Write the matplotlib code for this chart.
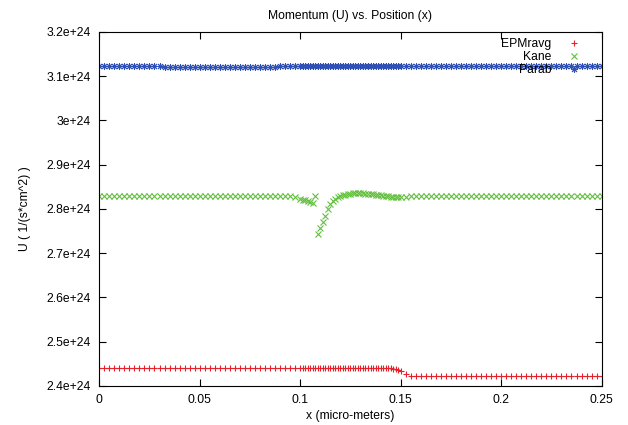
import matplotlib
matplotlib.use('Agg')
import matplotlib.pyplot as plt
from matplotlib.ticker import FuncFormatter
import numpy as np

plt.rcParams['font.family'] = ['Liberation Sans', 'DejaVu Sans']
plt.rcParams['font.size'] = 8.7

# x positions (micro-meters)
x_um = [
    0.0, 0.0025, 0.005, 0.0075, 0.01, 0.0125, 0.015, 0.0175, 0.02, 0.0225,
    0.025, 0.0275, 0.03, 0.0325, 0.035, 0.0375, 0.04, 0.0425, 0.045, 0.0475,
    0.05, 0.0525, 0.055, 0.0575, 0.06, 0.0625, 0.065, 0.0675, 0.07, 0.0725,
    0.075, 0.0775, 0.08, 0.0825, 0.085, 0.0875, 0.09, 0.0925, 0.095, 0.0975,
    0.1, 0.10125, 0.1025, 0.10375, 0.105, 0.10625, 0.1075, 0.10875, 0.11, 0.11125,
    0.1125, 0.11375, 0.115, 0.11625, 0.1175, 0.11875, 0.12, 0.12125, 0.1225, 0.12375,
    0.125, 0.12625, 0.1275, 0.12875, 0.13, 0.13125, 0.1325, 0.13375, 0.135, 0.13625,
    0.1375, 0.13875, 0.14, 0.14125, 0.1425, 0.14375, 0.145, 0.14625, 0.1475, 0.14875,
    0.15, 0.1525, 0.155, 0.1575, 0.16, 0.1625, 0.165, 0.1675, 0.17, 0.1725,
    0.175, 0.1775, 0.18, 0.1825, 0.185, 0.1875, 0.19, 0.1925, 0.195, 0.1975,
    0.2, 0.2025, 0.205, 0.2075, 0.21, 0.2125, 0.215, 0.2175, 0.22, 0.2225,
    0.225, 0.2275, 0.23, 0.2325, 0.235, 0.2375, 0.24, 0.2425, 0.245, 0.2475,
    0.25]

# momentum in units of 1e24 1/(s*cm^2)
u_epmravg = ([2.4407] * 70 +
             [2.4407, 2.4406, 2.4405, 2.4404, 2.4403, 2.4401, 2.4398, 2.4392, 2.4380, 2.4360,
              2.4330, 2.4265, 2.4228, 2.4216] +
             [2.4213] * 37)

u_kane = ([2.8290] * 39 +
          [2.8275,
           2.8220, 2.8200, 2.8190, 2.8170, 2.8150, 2.8130, 2.8290, 2.7440, 2.7570, 2.7700,
           2.7850, 2.8000, 2.8110, 2.8180, 2.8230, 2.8270, 2.8300, 2.8310, 2.8320, 2.8330,
           2.8340, 2.8350, 2.8350, 2.8350, 2.8350, 2.8350, 2.8340, 2.8340, 2.8330, 2.8330,
           2.8320, 2.8320, 2.8310, 2.8300, 2.8290, 2.8280, 2.8270, 2.8260, 2.8260, 2.8260,
           2.8260, 2.8270, 2.8280] +
          [2.8290] * 38)

u_parab = [
    3.1240, 3.1240, 3.1238, 3.1236, 3.1234, 3.1232, 3.1230, 3.1228, 3.1226, 3.1224,
    3.1222, 3.1220, 3.1218, 3.1217, 3.1216, 3.1215, 3.1214, 3.1213, 3.1212, 3.1212,
    3.1211, 3.1211, 3.1211, 3.1211, 3.1211, 3.1211, 3.1211, 3.1212, 3.1212, 3.1212,
    3.1213, 3.1214, 3.1215, 3.1216, 3.1216, 3.1217, 3.1218, 3.1218, 3.1219, 3.1220,
    3.1220, 3.1220, 3.1220, 3.1220, 3.1220, 3.1220, 3.1221, 3.1221, 3.1221, 3.1221,
    3.1221, 3.1221, 3.1221, 3.1221, 3.1221, 3.1221, 3.1221, 3.1221, 3.1221, 3.1221,
    3.1222, 3.1222, 3.1222, 3.1222, 3.1222, 3.1222, 3.1222, 3.1222, 3.1222, 3.1222,
    3.1222, 3.1222, 3.1222, 3.1222, 3.1222, 3.1222, 3.1222, 3.1222, 3.1222, 3.1222,
    3.1222, 3.1223, 3.1224, 3.1225, 3.1226, 3.1227, 3.1228, 3.1229, 3.1230, 3.1231,
    3.1232, 3.1233, 3.1234, 3.1235, 3.1236, 3.1237, 3.1237, 3.1238, 3.1238, 3.1238,
    3.1238, 3.1238, 3.1237, 3.1236, 3.1235, 3.1234, 3.1233, 3.1232, 3.1231, 3.1230,
    3.1229, 3.1228, 3.1227, 3.1226, 3.1225, 3.1224, 3.1223, 3.1222, 3.1221, 3.1220,
    3.1220]

scale = 1e24

fig = plt.figure(figsize=(6.28, 4.25), dpi=100)
ax = fig.add_axes([0.158, 0.092, 0.8, 0.833])

x = np.array(x_um)
ax.plot(x, np.array(u_epmravg) * scale, linestyle='none', marker='+',
        color='#e8202a', markersize=5, markeredgewidth=0.8, label='EPMravg')
ax.plot(x, np.array(u_kane) * scale, linestyle='none', marker='x',
        color='#62c03e', markersize=4.5, markeredgewidth=0.8, label='Kane')
ax.plot(x, np.array(u_parab) * scale, linestyle='none', marker=(8, 2, 0),
        color='#2f50b4', markersize=5, markeredgewidth=0.7, label='Parab')

ax.set_xlim(0, 0.25)
ax.set_ylim(2.4e24, 3.2e24)
ax.set_xticks([0, 0.05, 0.1, 0.15, 0.2, 0.25])
ax.set_yticks([2.4e24, 2.5e24, 2.6e24, 2.7e24, 2.8e24, 2.9e24, 3.0e24, 3.1e24, 3.2e24])
ax.xaxis.set_major_formatter(FuncFormatter(lambda v, p: '%g' % v))
ax.yaxis.set_major_formatter(FuncFormatter(lambda v, p: '%g' % v))
ax.tick_params(direction='in', top=True, right=True, length=5, width=0.8, pad=6)
for s in ax.spines.values():
    s.set_linewidth(0.8)

ax.set_title('Momentum (U) vs. Position (x)', fontsize=8.7, pad=9)
ax.set_xlabel('x (micro-meters)', labelpad=3)
ax.set_ylabel('U ( 1/(s*cm^2) )', labelpad=11)

# gnuplot-style key: right-aligned labels, symbol after the text
leg = ax.legend(loc='upper right', frameon=False, markerfirst=False,
                handlelength=1.0, handletextpad=1.4, labelspacing=0.08,
                borderaxespad=0.0, borderpad=0.4, fontsize=8.7,
                alignment='right', bbox_to_anchor=(0.967, 0.995))

fig.savefig('out.png', dpi=100)
